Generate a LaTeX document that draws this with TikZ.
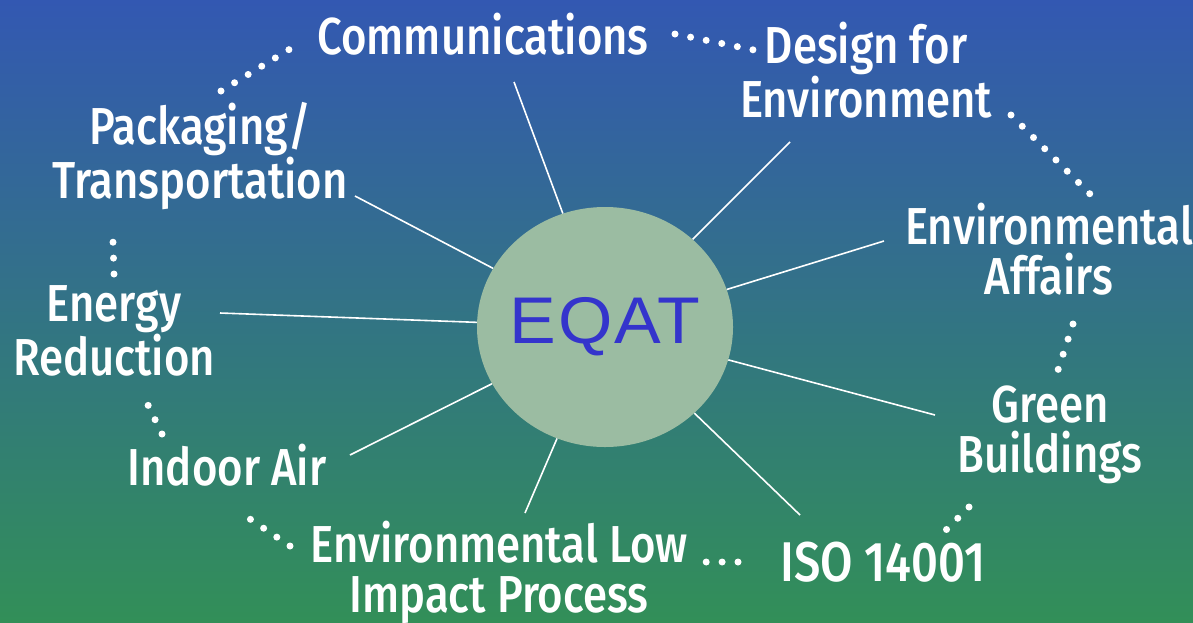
\documentclass[tikz,border=0pt]{standalone}
\usepackage{fontspec}
\setmainfont{Fira Sans Medium}[FakeStretch=0.84]
\newfontfamily\eqatfont{Liberation Sans}[FakeStretch=1.06,LetterSpace=3]
\usetikzlibrary{shapes.geometric}
\definecolor{bgtop}{RGB}{51,88,178}
\definecolor{bgmid}{RGB}{50,122,138}
\definecolor{bgbot}{RGB}{50,143,88}
\definecolor{discfill}{RGB}{155,188,162}
\definecolor{eqatblue}{RGB}{52,52,204}
\begin{document}
\begin{tikzpicture}[x=1pt,y=-1pt,
    lbl/.style={text=white, align=center, inner sep=0pt, anchor=base, font=\fontsize{52}{50}\selectfont},
    spoke/.style={draw=white, line width=1.6pt},
    dotrow/.style={draw=white, line width=7pt, line cap=round, dash pattern=on 0pt off 15.9pt}]
    \shade[top color=bgtop, middle color=bgmid, bottom color=bgbot] (0,0) rectangle (1193,622);
    \useasboundingbox (0,0) rectangle (1193,622);

    % hub
    \node[ellipse, fill=discfill, minimum width=256pt, minimum height=240pt, inner sep=0pt,
        text=eqatblue, font=\eqatfont\fontsize{66}{66}\selectfont] (eqat) at (605,327) {\makebox[0pt]{EQAT}};

    % areas round the hub (base = last line)
    \node[lbl] (comm) at (483,54) {Communications};
    \node[lbl] (dfe) at (866,117) {Design for\\Environment};
    \node[lbl] (envaff) at (1049,294) {Environmental\\Affairs};
    \node[lbl] (green) at (1050,472) {Green\\Buildings};
    \node[lbl, font=\fontsize{56}{50}\selectfont] (iso) at (883,581) {ISO 14001};
    \node[lbl] (lowimp) at (499,612) {Environmental Low\\Impact Process};
    \node[lbl] (indoor) at (227,485) {Indoor Air};
    \node[lbl] (energy) at (114,375) {Energy\\Reduction};
    \node[lbl] (pack) at (200,198) {Packaging/\\Transportation};

    % spoke ends
    \coordinate (sComm) at (514,82); \coordinate (sDfe) at (790,142); \coordinate (sEnvaff) at (884,241);
    \coordinate (sGreen) at (935,415); \coordinate (sIso) at (800,515); \coordinate (sLowimp) at (525,513);
    \coordinate (sIndoor) at (350,455); \coordinate (sEnergy) at (220,313); \coordinate (sPack) at (355,196);

    \draw[spoke] (eqat) -- (sComm); \draw[spoke] (eqat) -- (sDfe); \draw[spoke] (eqat) -- (sEnvaff);
    \draw[spoke] (eqat) -- (sGreen); \draw[spoke] (eqat) -- (sIso); \draw[spoke] (eqat) -- (sLowimp);
    \draw[spoke] (eqat) -- (sIndoor); \draw[spoke] (eqat) -- (sEnergy); \draw[spoke] (eqat) -- (sPack);

    % dotted ring
    \coordinate (d1a) at (221,91); \coordinate (d1b) at (290,49);
    \coordinate (d2a) at (675,34); \coordinate (d2b) at (754,50);
    \coordinate (d3a) at (1011,115); \coordinate (d3b) at (1090,194);
    \coordinate (d4a) at (1073,324); \coordinate (d4b) at (1058,370);
    \coordinate (d5a) at (969,507); \coordinate (d5b) at (946,530);
    \coordinate (d6a) at (738,562); \coordinate (d6b) at (706,562);
    \coordinate (d7a) at (290,546); \coordinate (d7b) at (250,519);
    \coordinate (d8a) at (162,434); \coordinate (d8b) at (148,405);
    \coordinate (d9a) at (114,274); \coordinate (d9b) at (113,242);

    \draw[dotrow] (d1a) -- (d1b); \draw[dotrow] (d2a) -- (d2b); \draw[dotrow] (d3a) -- (d3b);
    \draw[dotrow] (d4a) -- (d4b); \draw[dotrow] (d5a) -- (d5b); \draw[dotrow] (d6a) -- (d6b);
    \draw[dotrow] (d7a) -- (d7b); \draw[dotrow] (d8a) -- (d8b); \draw[dotrow] (d9a) -- (d9b);
\end{tikzpicture}
\end{document}
